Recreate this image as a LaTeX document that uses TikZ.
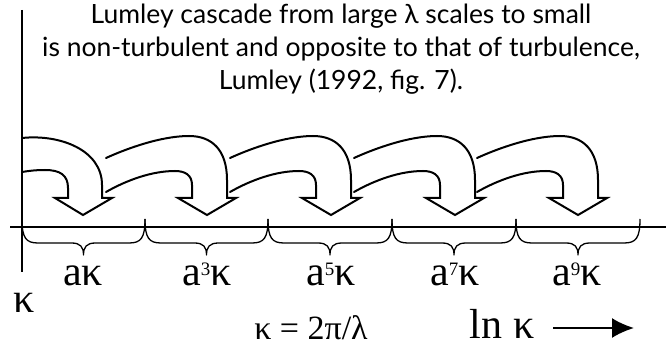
\documentclass[tikz,border=0pt]{standalone}
\usepackage{fontspec}
\setmainfont{Liberation Serif}
\newfontfamily\titlefont{Lato}
\usetikzlibrary{arrows.meta}
\newcommand{\supdig}[1]{\raisebox{10pt}{\fontsize{19}{19}\selectfont #1}}
\begin{document}
\begin{tikzpicture}[x=1pt,y=-1pt,
  casc/.style={line width=2pt, line join=miter, line cap=round},
  axisline/.style={line width=2pt},
  brc/.style={line width=1.3pt, line join=round},
  lbl/.style={font=\fontsize{42}{44}\selectfont, anchor=base, inner sep=0pt},
  eqlbl/.style={font=\fontsize{34}{36}\selectfont, anchor=base, inner sep=0pt},
  ttl/.style={font=\titlefont\fontsize{26.5}{30}\selectfont, anchor=base, inner sep=0pt}]
\useasboundingbox (0,0) rectangle (666,347);

% title
\node[ttl] (t1) at (341,24) {Lumley cascade from large λ scales to small};
\node[ttl] (t2) at (341,57) {is non-turbulent and opposite to that of turbulence,};
\node[ttl] (t3) at (341,90) {Lumley (1992, fig. 7).};

% axes
\draw[axisline] (22,10) -- (22,272);
\draw[axisline] (10,227) -- (666,227);

% first cascade arrow (starting at the vertical axis)
\draw[casc] (22,138) .. controls (60,134) and (102,150) .. (102,185) -- (102,198)
  -- (112,198) -- (83,215) -- (55,198) -- (68,198) -- (68,188)
  .. controls (68,175) and (60,170) .. (45,170)
  .. controls (35,170) and (28,171) .. (22,172);

% following cascade arrows
\foreach \T in {207,331,455,578}{
  \draw[casc] (\T-101,158) .. controls (\T-70,144) and (\T-40,136) .. (\T-18,136)
    .. controls (\T+5,136) and (\T+20,150) .. (\T+20,180) -- (\T+20,198)
    -- (\T+29,198) -- (\T,215) -- (\T-29,198) -- (\T-15,198) -- (\T-15,185)
    .. controls (\T-15,175) and (\T-22,171) .. (\T-32,171)
    .. controls (\T-55,171) and (\T-80,180) .. (\T-101,192);
}

% braces
\foreach \a/\b in {22/145,145/268,268/392,392/516,516/640}{
  \pgfmathsetmacro\m{(\a+\b)/2}
  \draw[brc] (\a,219) .. controls (\a,238) and (\a+4,243) .. (\a+16,243)
    -- (\m-12,243) .. controls (\m-3,243) and (\m,247) .. (\m,255)
    .. controls (\m,247) and (\m+3,243) .. (\m+12,243)
    -- (\b-16,243) .. controls (\b-4,243) and (\b,238) .. (\b,219);
}

% labels
\node[lbl] (l1) at (83,285) {aκ};
\node[lbl] (l3) at (207,285) {a\supdig{3}κ};
\node[lbl] (l5) at (331,285) {a\supdig{5}κ};
\node[lbl] (l7) at (455,285) {a\supdig{7}κ};
\node[lbl] (l9) at (577,285) {a\supdig{9}κ};
\node[lbl] (k0) at (24,312) {κ};
\node[eqlbl] (eq) at (311,339) {κ = 2π/λ};
\node[lbl] (lnk) at (502,338) {ln κ};
\coordinate (arrS) at (553,328);
\coordinate (arrE) at (634,328);
\draw[line width=2pt, -{Latex[length=22pt,width=20pt]}] (arrS) -- (arrE);
\end{tikzpicture}
\end{document}
